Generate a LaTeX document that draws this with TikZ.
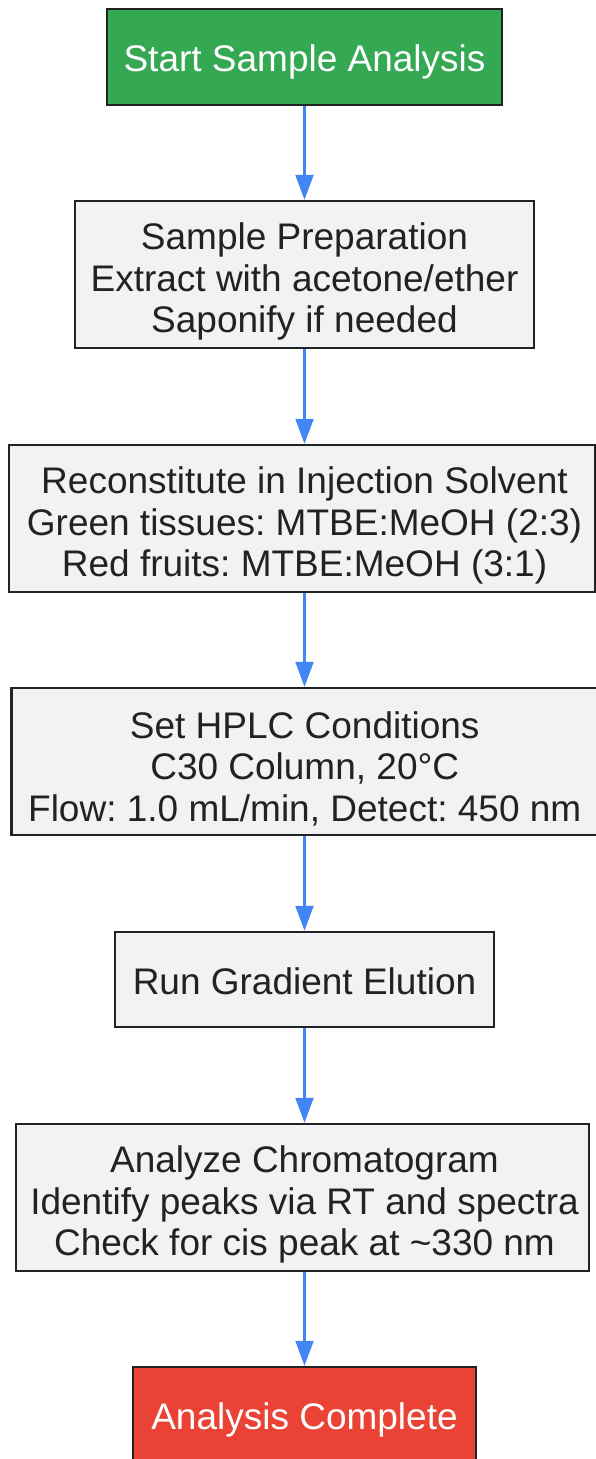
\documentclass[tikz,border=0pt]{standalone}
\usepackage{fontspec}
\setmainfont{Liberation Sans}
\usetikzlibrary{arrows.meta}
\frenchspacing
\definecolor{startgreen}{HTML}{34A853}
\definecolor{endred}{HTML}{EA4335}
\definecolor{boxgray}{HTML}{F1F2F4}
\definecolor{boxborder}{HTML}{222222}
\definecolor{arrowblue}{HTML}{4285F4}
\definecolor{txt}{HTML}{222222}
\tikzset{
  box/.style={draw=boxborder, line width=2.5pt, fill=boxgray, inner sep=0pt},
  startbox/.style={box, fill=startgreen},
  endbox/.style={box, fill=endred},
  label text/.style={text=txt, inner sep=0pt, align=center, font=\fontsize{37}{41.5}\selectfont\frenchspacing},
  light text/.style={label text, text=white},
  flow/.style={draw=arrowblue, line width=2.2pt, -{Triangle[width=18pt,length=25pt]}}
}
\begin{document}
\begin{tikzpicture}[x=1pt,y=-1pt]
\useasboundingbox[fill=white] (0,0) rectangle (596,1459);
\node[startbox, minimum width=395pt, minimum height=96pt] (n1) at (304.5,57) {};
\node[light text] (t1) at ([yshift=-5pt]n1.center) {Start Sample Analysis};
\node[box, minimum width=459pt, minimum height=147pt] (n2) at (304.5,274.5) {};
\node[label text] (t2) at ([yshift=-7pt]n2.center) {Sample Preparation\\Extract with acetone/ether\\Saponify if needed};
\node[box, minimum width=586pt, minimum height=147pt] (n3) at (302,518.5) {};
\node[label text] (t3) at ([xshift=2.5pt,yshift=-7pt]n3.center) {Reconstitute in Injection Solvent\\Green tissues: MTBE:MeOH (2:3)\\Red fruits: MTBE:MeOH (3:1)};
\node[box, minimum width=586.5pt, minimum height=147pt] (n4) at (304.75,761.5) {};
\node[label text] (t4) at ([yshift=-7pt]n4.center) {Set HPLC Conditions\\C30 Column, 20°C\\Flow: 1.0 mL/min, Detect: 450 nm};
\node[box, minimum width=379pt, minimum height=95pt] (n5) at (304.5,979.5) {};
\node[label text] (t5) at ([yshift=-2pt]n5.center) {Run Gradient Elution};
\node[box, minimum width=573pt, minimum height=147pt] (n6) at (302.5,1197.5) {};
\node[label text] (t6) at ([xshift=2pt,yshift=-7pt]n6.center) {Analyze Chromatogram\\Identify peaks via RT and spectra\\Check for cis peak at \textasciitilde330 nm};
\node[endbox, minimum width=343pt, minimum height=96pt] (n7) at (304.5,1415) {};
\node[light text] (t7) at ([yshift=-5pt]n7.center) {Analysis Complete};
\draw[flow] (n1.south) -- (n1.south |- n2.north);
\draw[flow] (n2.south) -- (n2.south |- n3.north);
\draw[flow] (n2.south |- n3.south) -- (n2.south |- n4.north);
\draw[flow] (n2.south |- n4.south) -- (n2.south |- n5.north);
\draw[flow] (n5.south) -- (n5.south |- n6.north);
\draw[flow] (n5.south |- n6.south) -- (n5.south |- n7.north);
\end{tikzpicture}
\end{document}
